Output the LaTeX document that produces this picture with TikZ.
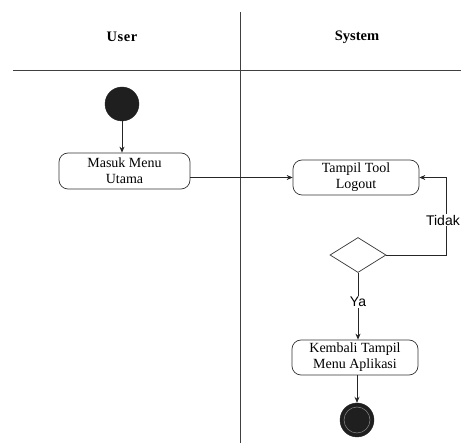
\documentclass[tikz,border=0pt]{standalone}
\usepackage{fontspec}
\setmainfont{Liberation Serif}
\newfontfamily\labelfont{Liberation Sans}
\usetikzlibrary{shapes.geometric,arrows.meta}
\tikzset{
  lane/.style={draw=black!75, line width=0.8pt},
  actbox/.style={draw=black!80, line width=0.7pt, rounded corners=9pt,
    minimum width=131pt, minimum height=36pt, align=center,
    font=\fontsize{14}{16}\selectfont, inner sep=1pt},
  startdot/.style={circle, fill=black!88, draw=black!88, minimum size=34pt, inner sep=0pt},
  decision/.style={diamond, draw=black!80, line width=0.7pt, fill=white,
    minimum width=56pt, minimum height=35pt, inner sep=0pt},
  flow/.style={draw=black!85, line width=0.7pt, -{Stealth[length=6pt,width=5pt]}},
  guard/.style={fill=white, inner sep=1.5pt, font=\labelfont\fontsize{14}{16}\selectfont},
  lanehead/.style={font=\bfseries\fontsize{14.5}{16}\selectfont}
}
\begin{document}
\begin{tikzpicture}[x=1pt,y=-1pt]
  \useasboundingbox (0,0) rectangle (461,443);
  % swimlanes
  \draw[lane] (240,12) -- (240,443);
  \draw[lane] (13,70) -- (461,70);
  \node[lanehead] (huser) at (122,37) {U\hspace{0.6pt}s\hspace{0.6pt}e\hspace{0.6pt}r};
  \node[lanehead] (hsys) at (357,37) {System};

  % activities
  \node[startdot] (start) at (122,104) {};
  \node[actbox] (masuk) at (124.5,171) {Masuk Menu\\Utama};
  \node[actbox, minimum height=35pt, minimum width=126pt] (tampil) at (356,177.5) {Tampil Tool\\Logout};
  \node[decision] (dec) at (358,255) {};
  \node[actbox, minimum height=35pt, minimum width=126pt] (kembali) at (355,357.5) {Kembali Tampil\\Menu Aplikasi};
  \node[startdot] (stop) at (357,420) {};
  \draw[black!45, line width=0.5pt] (stop.center) circle (13pt);
  \coordinate (bend) at (446,177.5);

  % flows
  \draw[flow] (start) -- (start |- masuk.north);
  \draw[flow] (masuk.east |- tampil.west) -- (tampil.west);
  \draw[flow] (dec.east) -| (bend) -- (tampil.east);
  \node[guard, anchor=east, inner sep=0.5pt] (tidak) at (460.5,220) {Tidak};
  \draw[flow] (dec.south) -- (dec.south |- kembali.north);
  \node[guard] (ya) at (358,302) {Ya};
  \draw[flow] (kembali.south -| stop) -- (stop.north);
\end{tikzpicture}
\end{document}
